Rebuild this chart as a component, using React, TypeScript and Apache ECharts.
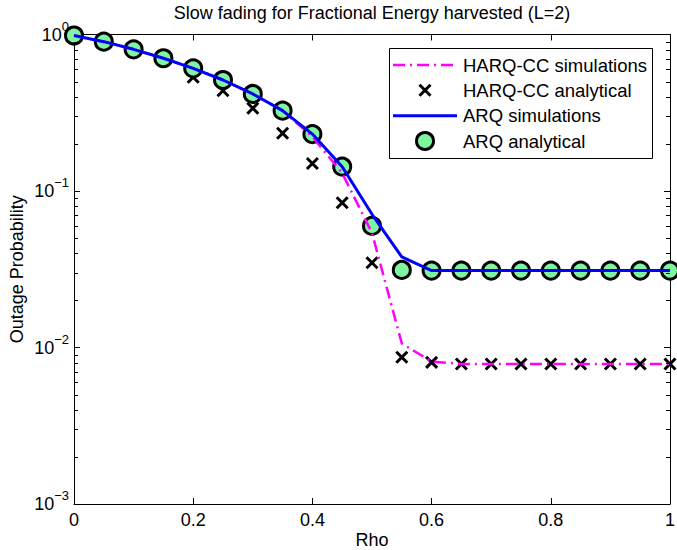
import React, { useEffect, useRef } from "react";
import * as echarts from "echarts";

const rho = [0, 0.05, 0.1, 0.15, 0.2, 0.25, 0.3, 0.35, 0.4, 0.45, 0.5, 0.55, 0.6, 0.65, 0.7, 0.75, 0.8, 0.85, 0.9, 0.95, 1];
const harqSim = [0.985, 0.9, 0.804, 0.705, 0.608, 0.512, 0.417, 0.326, 0.222, 0.13, 0.054, 0.0106, 0.00814, 0.00785, 0.00785, 0.00785, 0.00785, 0.00785, 0.00785, 0.00785, 0.00785];
const harqAna = [0.985, 0.89, 0.79, 0.69, 0.533, 0.437, 0.338, 0.234, 0.15, 0.0842, 0.0348, 0.00866, 0.00804, 0.00785, 0.00785, 0.00785, 0.00785, 0.00785, 0.00785, 0.00785, 0.00785];
const arqSim = [0.985, 0.9, 0.804, 0.705, 0.608, 0.512, 0.417, 0.326, 0.231, 0.143, 0.071, 0.0379, 0.031, 0.031, 0.031, 0.031, 0.031, 0.031, 0.031, 0.031, 0.031];
const arqAna = [0.985, 0.9, 0.804, 0.705, 0.608, 0.512, 0.417, 0.326, 0.231, 0.143, 0.0598, 0.0313, 0.031, 0.031, 0.031, 0.031, 0.031, 0.031, 0.031, 0.031, 0.031];
const yMinorTicks = [
  0.002, 0.003, 0.004, 0.005, 0.006, 0.007, 0.008, 0.009,
  0.02, 0.03, 0.04, 0.05, 0.06, 0.07, 0.08, 0.09,
  0.2, 0.3, 0.4, 0.5, 0.6, 0.7, 0.8, 0.9,
];
const legendNames = ["HARQ-CC simulations", "HARQ-CC analytical", "ARQ simulations", "ARQ analytical"];
const titleText = "Slow fading for Fractional Energy harvested (L=2)";

const FONT = "'Liberation Sans', Arial, Helvetica, sans-serif";
const MAGENTA = "#ff00ff";
const BLUE = "#0000ff";
const GREEN = "#80f5a0";
const CROSS = "path://M0,0L10,10M0,10L10,0";

const pairs = (ys: number[]) => rho.map((x, i) => [x, ys[i]]);

export default function App() {
  const ref = useRef<HTMLDivElement>(null);
  useEffect(() => {
    if (!ref.current) return;
    const chart = echarts.init(ref.current, undefined, { renderer: "svg" });
    const L = 74, T = 34.5, R = 670, B = 504;
    const lx = 389, ly = 48, lw = 264, lh = 110;
    const rowY = [65, 90.3, 115.7, 141];
    const ix1 = 393, ix2 = 457, icx = 425, tx = 463;
    const fmt = (v: number) => {
      const e = Math.round(Math.log10(v));
      return `{b|10}{s|${e === 0 ? "0" : "\u2212" + -e}}`;
    };
    const minorData: number[][] = [];
    yMinorTicks.forEach((v) => {
      minorData.push([0, v]);
      minorData.push([1, v]);
    });
    const axisLine = { show: true, onZero: false, lineStyle: { color: "#000", width: 1 } };
    const axisTick = { show: true, inside: true, length: 6, lineStyle: { color: "#000" } };
    const option: any = {
      animation: false,
      backgroundColor: "#fff",
      title: {
        text: titleText,
        left: (L + R) / 2,
        textAlign: "center",
        top: 4,
        padding: 0,
        textStyle: { fontFamily: FONT, fontSize: 18, fontWeight: "normal", color: "#000", lineHeight: 18 },
      },
      grid: { left: L, top: T, right: 677 - R, bottom: 550 - B, containLabel: false, outerBoundsMode: "none" },
      xAxis: [
        {
          type: "value", min: 0, max: 1, interval: 0.2, position: "bottom",
          name: "Rho", nameLocation: "middle", nameGap: 27, nameMoveOverlap: false,
          nameTextStyle: { fontFamily: FONT, fontSize: 18, color: "#000" },
          axisLine, axisTick,
          axisLabel: { show: true, margin: 7, fontFamily: FONT, fontSize: 18, color: "#000" },
          splitLine: { show: false },
        },
        {
          type: "value", min: 0, max: 1, interval: 0.2, position: "top",
          axisLine, axisTick,
          axisLabel: { show: false },
          splitLine: { show: false },
        },
      ],
      yAxis: [
        {
          type: "log", logBase: 10, min: 0.001, max: 1, position: "left",
          name: "Outage Probability", nameLocation: "middle", nameGap: 48, nameMoveOverlap: false,
          nameTextStyle: { fontFamily: FONT, fontSize: 18, color: "#000" },
          axisLine, axisTick,
          axisLabel: {
            show: true, margin: 5, formatter: fmt, color: "#000",
            rich: {
              b: { fontFamily: FONT, fontSize: 18, lineHeight: 30, verticalAlign: "middle", color: "#000" },
              s: { fontFamily: FONT, fontSize: 13, lineHeight: 13, verticalAlign: "top", color: "#000" },
            },
          },
          splitLine: { show: false },
        },
        {
          type: "log", logBase: 10, min: 0.001, max: 1, position: "right",
          axisLine, axisTick,
          axisLabel: { show: false },
          splitLine: { show: false },
        },
      ],
      series: [
        {
          type: "custom", name: "minorTicks", xAxisIndex: 0, yAxisIndex: 0, silent: true,
          data: minorData,
          encode: { x: 0, y: 1 },
          clip: false,
          z: 5,
          renderItem: (_p: any, api: any) => {
            const side = api.value(0);
            const v = api.value(1);
            const p = api.coord([side, v]);
            const dx = side < 0.5 ? 4 : -4;
            const y = Math.round(p[1]) + 0.5;
            return {
              type: "line",
              shape: { x1: p[0], y1: y, x2: p[0] + dx, y2: y },
              style: { stroke: "#000", lineWidth: 1 },
            };
          },
        },
        {
          type: "line", name: legendNames[0], data: pairs(harqSim), symbol: "none",
          lineStyle: { color: MAGENTA, width: 2.5, type: [12, 5, 2, 5] },
        },
        {
          type: "scatter", name: legendNames[1], data: pairs(harqAna), symbol: CROSS, symbolSize: 11,
          itemStyle: { color: "#000", borderColor: "#000", borderWidth: 3, opacity: 1 },
        },
        {
          type: "line", name: legendNames[2], data: pairs(arqSim), symbol: "none",
          lineStyle: { color: BLUE, width: 3 },
        },
        {
          type: "scatter", name: legendNames[3], data: pairs(arqAna), symbol: "circle", symbolSize: 17,
          itemStyle: { color: GREEN, borderColor: "#000", borderWidth: 3, opacity: 1 },
        },
      ],
      graphic: [
        {
          type: "group", z: 100,
          children: [
            { type: "rect", shape: { x: lx + 0.5, y: ly + 0.5, width: lw - 1, height: lh }, style: { fill: "#fff", stroke: "#000", lineWidth: 1 } },
            { type: "line", shape: { x1: ix1, y1: rowY[0], x2: ix2, y2: rowY[0] }, style: { stroke: MAGENTA, lineWidth: 2.5, lineDash: [12, 5, 2, 5] } },
            { type: "line", shape: { x1: icx - 5.5, y1: rowY[1] - 5.5, x2: icx + 5.5, y2: rowY[1] + 5.5 }, style: { stroke: "#000", lineWidth: 3 } },
            { type: "line", shape: { x1: icx - 5.5, y1: rowY[1] + 5.5, x2: icx + 5.5, y2: rowY[1] - 5.5 }, style: { stroke: "#000", lineWidth: 3 } },
            { type: "line", shape: { x1: ix1, y1: rowY[2], x2: ix2, y2: rowY[2] }, style: { stroke: BLUE, lineWidth: 3 } },
            { type: "circle", shape: { cx: icx, cy: rowY[3], r: 8.5 }, style: { fill: GREEN, stroke: "#000", lineWidth: 3 } },
            ...legendNames.map((n, i) => ({
              type: "text", x: tx, y: rowY[i],
              style: { text: n, font: `18.5px ${FONT}`, fill: "#000", textAlign: "left", textVerticalAlign: "middle" },
            })),
          ],
        },
      ],
    };
    chart.setOption(option);
    return () => chart.dispose();
  }, []);
  return <div ref={ref} style={{ position: "fixed", left: 0, top: 0, width: 677, height: 550 }} />;
}
